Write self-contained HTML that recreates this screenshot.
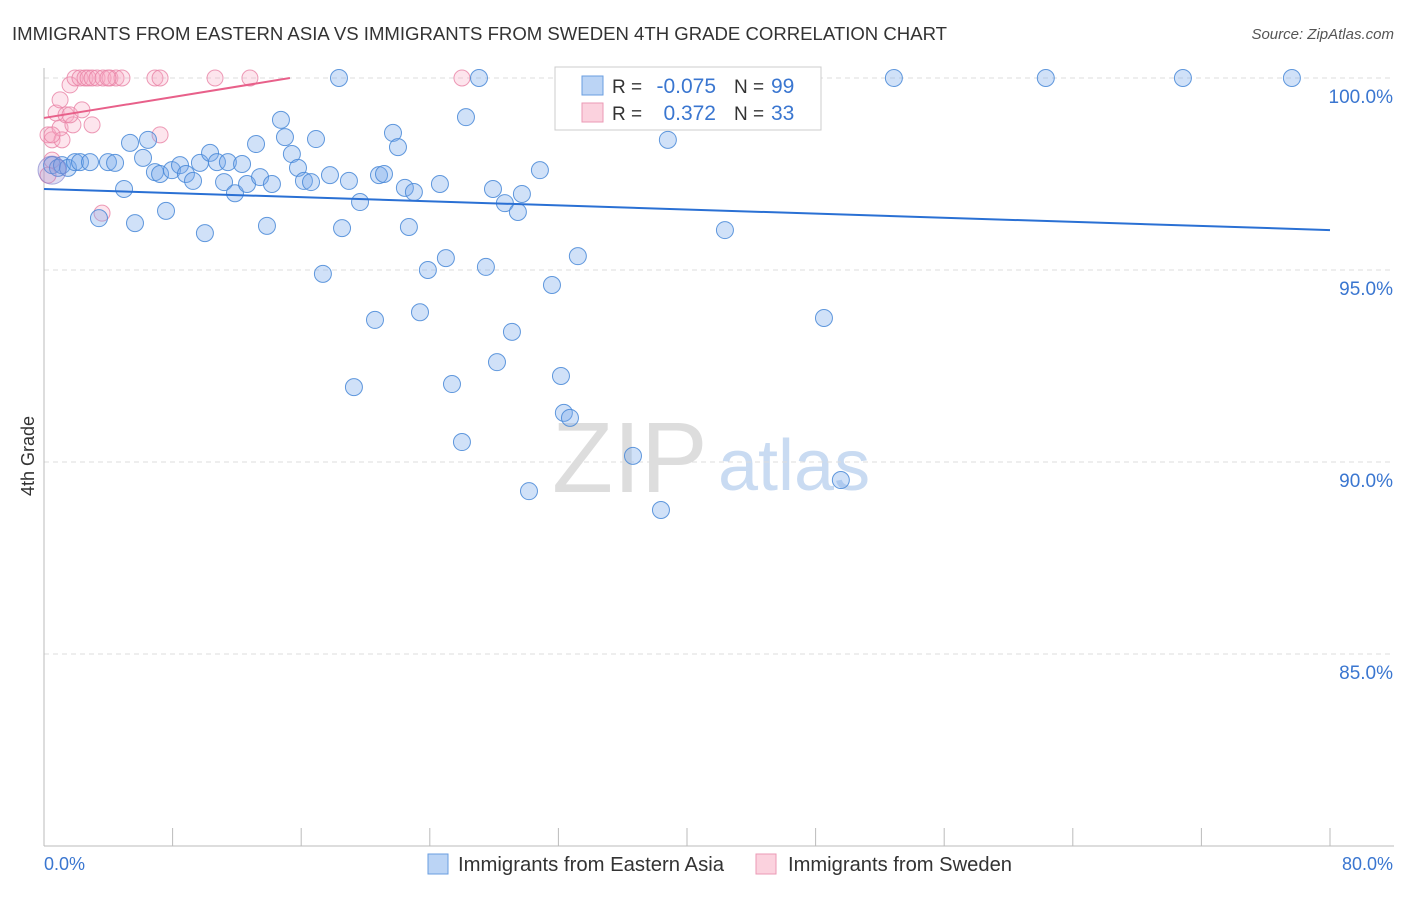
<!DOCTYPE html>
<html><head><meta charset="utf-8"><style>
body{margin:0;background:#fff;font-family:"Liberation Sans",sans-serif;}
svg text{font-family:"Liberation Sans",sans-serif;}
</style></head><body>
<svg id="chart" width="1406" height="892" xmlns="http://www.w3.org/2000/svg">
<text x="12" y="40" font-size="18" fill="#333" textLength="935" lengthAdjust="spacingAndGlyphs">IMMIGRANTS FROM EASTERN ASIA VS IMMIGRANTS FROM SWEDEN 4TH GRADE CORRELATION CHART</text>
<text x="1394" y="39" font-size="15" fill="#555" font-style="italic" text-anchor="end">Source: ZipAtlas.com</text>
<text x="34" y="456" font-size="18" fill="#333" text-anchor="middle" transform="rotate(-90 34 456)">4th Grade</text>
<g><text x="552" y="492" font-size="100" fill="#ddd" font-family="Liberation Serif,serif">ZIP</text><text x="718" y="490" font-size="72" fill="#c9dbf2">atlas</text></g>
<g id="grid"></g><g id="marks"></g>
<g>
<rect x="555" y="67" width="266" height="63" fill="#fff" stroke="#ccc"/>
<rect x="582" y="76" width="21" height="19" fill="rgba(120,170,235,0.5)" stroke="#6a9ee0"/>
<rect x="582" y="103" width="21" height="19" fill="rgba(248,180,200,0.6)" stroke="#eb9ab5"/>
<text x="612" y="93" font-size="19" fill="#333">R =</text><text x="716" y="93" font-size="21" fill="#3a76d0" text-anchor="end">-0.075</text>
<text x="734" y="93" font-size="19" fill="#333">N =</text><text x="771" y="93" font-size="21" fill="#3a76d0">99</text>
<text x="612" y="120" font-size="19" fill="#333">R =</text><text x="716" y="120" font-size="21" fill="#3a76d0" text-anchor="end">0.372</text>
<text x="734" y="120" font-size="19" fill="#333">N =</text><text x="771" y="120" font-size="21" fill="#3a76d0">33</text>
</g>
<g>
<rect x="428" y="854" width="20" height="20" fill="rgba(120,170,235,0.5)" stroke="#6a9ee0"/>
<text x="458" y="871" font-size="20" fill="#333" textLength="266" lengthAdjust="spacingAndGlyphs">Immigrants from Eastern Asia</text>
<rect x="756" y="854" width="20" height="20" fill="rgba(248,180,200,0.6)" stroke="#eb9ab5"/>
<text x="788" y="871" font-size="20" fill="#333" textLength="224" lengthAdjust="spacingAndGlyphs">Immigrants from Sweden</text>
</g>
<text x="44" y="870" font-size="18" fill="#3a76d0">0.0%</text>
<text x="1393" y="870" font-size="18" fill="#3a76d0" text-anchor="end">80.0%</text>
</svg>
<script>
const blueX=[0.5,0.87,1.12,1.49,1.93,2.24,2.86,3.98,4.42,4.98,3.42,5.35,5.66,6.16,6.47,6.9,7.22,7.59,7.96,8.46,8.83,9.27,9.7,10.01,10.33,10.76,11.2,11.44,11.88,12.32,12.63,13.19,13.44,13.87,14.18,14.74,14.99,15.42,15.8,16.17,16.61,16.92,17.35,17.79,18.35,18.54,18.97,19.66,20.59,20.84,21.15,19.28,21.71,22.02,22.45,22.7,23.01,23.39,23.88,24.63,25.0,25.38,26.0,26.25,27.06,27.49,27.93,28.18,28.67,29.11,29.48,29.73,30.17,30.85,31.6,32.16,32.34,32.72,33.21,36.64,38.38,38.81,42.36,48.52,49.57,52.87,62.32,70.85,77.63,34.27,38.94,43.29];
const blueY=[97.73,97.66,97.73,97.66,97.81,97.81,97.81,97.81,97.79,97.11,96.35,98.31,96.22,97.92,98.39,97.55,97.5,96.54,97.6,97.73,97.5,97.32,97.79,95.96,98.05,97.81,97.29,97.81,97.0,97.76,97.24,98.28,97.42,96.15,97.24,98.91,98.46,98.02,97.66,97.32,97.29,98.41,94.9,97.47,100,96.09,97.32,96.77,93.7,97.47,97.5,91.95,98.57,98.2,97.14,96.12,97.03,93.9,95.0,97.24,95.31,92.03,90.52,98.98,100,95.08,97.11,92.6,96.74,93.39,96.51,96.98,89.24,97.6,94.61,92.24,91.28,91.15,95.36,90.16,88.75,98.39,96.04,93.75,89.53,100,100,100,100,100,100,100];
const pinkX=[0.25,0.5,0.75,1.0,1.12,1.37,1.62,1.8,1.93,2.24,2.55,2.74,2.99,3.3,3.67,4.1,4.48,4.85,1.62,2.36,3.61,6.9,7.22,7.22,10.64,12.81,26.0,0.25,0.5,1.0,0.5,3.98,2.99];
const pinkY=[98.52,98.39,99.09,98.7,98.39,99.04,99.82,98.78,100,100,100,100,100,100,100,100,100,100,99.04,99.17,96.48,100,100,98.52,100,100,100,97.47,97.86,99.43,98.52,100,98.78];
const yTicks=[100,95,90,85];
const blueTrend=[97.11,96.04];
const pinkTrend=[98.96,100,15.3];
const sx=v=>44+v/80*1286, sy=v=>78+(100-v)*38.4;
const NS='http://www.w3.org/2000/svg';
function mk(t,a,p){const e=document.createElementNS(NS,t);for(const k in a)e.setAttribute(k,a[k]);p.appendChild(e);return e;}
const g=document.getElementById('grid'),m=document.getElementById('marks');
yTicks.forEach(t=>{const l=mk('line',{x1:44,x2:1394,y1:sy(t),y2:sy(t),stroke:'#ddd','stroke-dasharray':'5,4'},g);


const tx=mk('text',{x:1393,y:sy(t)+25,'font-size':19,fill:'#3a76d0','text-anchor':'end'},g);tx.textContent=t.toFixed(1)+'%';

});
const ax=mk('line',{x1:44,x2:44,y1:68,y2:846,stroke:'#bbb'},g);


const bx=mk('line',{x1:44,x2:1394,y1:846,y2:846,stroke:'#bbb'},g);


for(let i=0;i<=10;i++){const t=mk('line',{x1:sx(i*8),x2:sx(i*8),y1:828,y2:846,stroke:'#bbb'},g);

}
pinkX.forEach((x,i)=>{const c=mk('circle',{cx:sx(x),cy:sy(pinkY[i]),r:8,fill:'rgba(248,170,195,0.3)',stroke:'rgba(232,130,165,0.8)','stroke-width':1},m);

});
blueX.forEach((x,i)=>{const c=mk('circle',{cx:sx(x),cy:sy(blueY[i]),r:8.5,fill:'rgba(120,170,235,0.35)',stroke:'rgba(70,135,215,0.85)','stroke-width':1},m);

});
const big=mk('circle',{cx:sx(0.5),cy:sy(97.6),r:14,fill:'rgba(150,140,210,0.3)',stroke:'rgba(120,120,200,0.6)'},m);


const bl=mk('line',{x1:sx(0),y1:sy(blueTrend[0]),x2:sx(80),y2:sy(blueTrend[1]),stroke:'#2a70d4','stroke-width':2},m);


const pl=mk('line',{x1:sx(0),y1:sy(pinkTrend[0]),x2:sx(pinkTrend[2]),y2:sy(pinkTrend[1]),stroke:'#e8608a','stroke-width':2},m);


</script>
</body></html>
